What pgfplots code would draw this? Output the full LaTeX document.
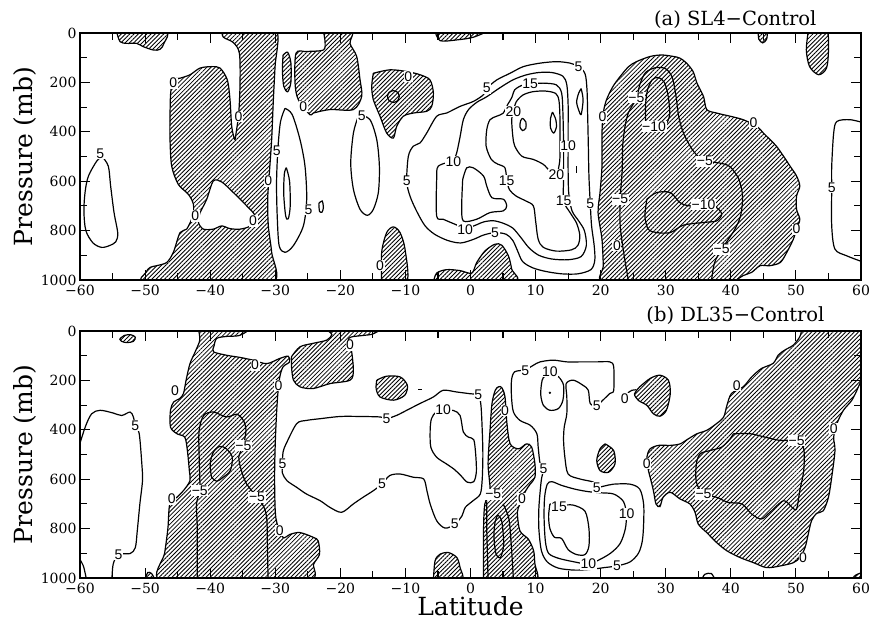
\documentclass[border=0pt]{standalone}
\usepackage{fontspec}
\setmainfont{DejaVu Serif}
\newfontfamily\labfam{Liberation Sans}
\usepackage{pgfplots}
\pgfplotsset{compat=1.18}
\usetikzlibrary{patterns.meta}

\newcommand\tickfont{\fontsize{14}{16}\selectfont}
\newcommand\axlabfont{\fontsize{25}{29}\selectfont}
\newcommand\titlefont{\fontsize{19.5}{23}\selectfont}
\newcommand\labfont{\labfam\fontsize{14}{16}\selectfont}

\tikzset{
  hatch/.style={draw=black, line width=1.2pt, smooth, tension=0.5,
    pattern={Lines[angle=45,distance=3pt,line width=0.85pt]}},
  cl/.style={black, line width=1.2pt, smooth, tension=0.5},
  hole/.style={draw=black, line width=1.2pt, smooth, tension=0.5, fill=white},
  lab/.style={fill=white, inner sep=0.6pt, font=\labfont},
}
% contour label: latitude, pressure, value
\newcommand{\lb}[3]{\node[lab] at (axis cs:#1,#2) {#3};}

\pgfplotsset{
  panel/.style={
    scale only axis, width=781pt, height=247pt,
    xmin=-60, xmax=60, ymin=0, ymax=1000, y dir=reverse,
    axis on top,
    axis line style={line width=1.8pt},
    tick style={black, line width=1.1pt},
    tick align=inside,
    major tick length=10pt, minor tick length=7pt,
    xtick={-60,-50,...,60}, minor xtick={-55,-45,...,55},
    xticklabels={−60,−50,−40,−30,−20,−10,0,10,20,30,40,50,60},
    ytick={0,200,...,1000}, minor ytick={100,300,...,900},
    yticklabels={0,200,400,600,800,1000},
    tick label style={font=\tickfont},
    xticklabel style={yshift=-2pt},
    ylabel={Pressure (mb)},
    ylabel style={at={(axis description cs:-0.0704,0.5)}, anchor=center, font=\axlabfont},
  }
}

\begin{document}
\begin{tikzpicture}
\useasboundingbox (-80pt,-342pt) rectangle (793pt,280pt);

% ---------------- (a) SL4 - Control ----------------
\begin{axis}[panel, at={(0pt,0pt)}, anchor=south west]
% negative (hatched) areas
\addplot[hatch] coordinates {(-54.4,-8)(-53.85,35)(-52.8,42)(-51.3,42)(-50.3,55)(-48.7,69)(-47.7,66)(-47.1,42)(-46.9,-8)(-54.4,-8)};
\addplot[hatch] coordinates {(-38.2,-8)(-37.97,17)(-36.43,39)(-35.51,82)(-35.41,203)(-35.61,324)(-36.02,405)(-36.23,431)(-36.69,378)(-36.95,270)(-37.36,190)(-38.48,142)(-39.76,136)(-41.56,142)(-43.09,169)(-44.63,183)(-45.66,190)(-46.07,243)(-46.17,337)(-46.17,431)(-45.91,539)(-44.89,613)(-43.35,653)(-42.58,693)(-42.68,741)(-43.61,794)(-44.63,808)(-45.66,888)(-46.68,929)(-48.22,942)(-49.24,949)(-49.86,969)(-50.16,1008)(-40,1008)(-30.29,1008)(-30.55,888)(-31.06,781)(-31.16,673)(-30.9,566)(-30.55,431)(-30.29,270)(-30.03,136)(-29.77,-8)(-34,-8)(-38.2,-8)};
\addplot[hole] coordinates {(-41.56,727)(-40.53,673)(-39.51,599)(-38.23,603)(-36.43,646)(-34.38,700)(-33.1,741)(-33.87,781)(-35.41,794)(-36.95,792)(-38.23,781)(-39.51,794)(-41.04,794)(-41.8,767)(-41.56,727)};
\addplot[hatch] coordinates {(-28.8,90)(-28.1,78)(-27.6,120)(-27.6,200)(-28.1,238)(-28.7,215)(-28.9,150)(-28.8,90)};
\addplot[hatch] coordinates {(-22.61,-8)(-18.26,-8)(-18.51,42)(-17.49,95)(-16.97,190)(-16.72,257)(-18.0,310)(-21.59,310)(-24.15,324)(-24.66,331)(-26.45,270)(-26.96,203)(-26.81,82)(-25.17,75)(-22.61,69)(-22.35,35)(-22.61,-8)};
\addplot[hatch] coordinates {(-14.93,163)(-12.36,149)(-9.8,156)(-7.75,169)(-6.22,190)(-5.7,243)(-5.96,297)(-6.73,317)(-8.78,324)(-10.32,337)(-11.34,378)(-11.85,425)(-12.88,405)(-13.9,337)(-14.93,270)(-15.18,216)(-14.93,163)};
\addplot[cl] coordinates {(-11.85,233)(-11.2,240)(-10.95,257)(-11.2,274)(-11.85,281)(-12.5,274)(-12.75,257)(-12.5,240)(-11.85,233)};
\addplot[hatch] coordinates {(-13.65,1008)(-13.65,888)(-12.88,808)(-11.85,785)(-10.83,808)(-10.06,875)(-9.8,1008)(-13.65,1008)};
\addplot[hatch] coordinates {(-5.45,-8)(-4.68,31)(-2.12,28)(0.44,17)(1.98,-8)(-5.45,-8)};
\addplot[hatch] coordinates {(-5.7,1008)(-5.2,972)(-3.66,958)(-1.6,962)(0.19,972)(0.96,929)(2.24,882)(3.77,855)(4.8,859)(5.82,902)(6.33,956)(6.59,1008)(-5.7,1008)};
\addplot[hatch] coordinates {(40.4,1008)(41.9,982)(43.2,969)(44.5,942)(46.0,942)(47.6,929)(48.6,888)(49.6,835)(50.1,794)(50.6,754)(50.1,714)(50.1,660)(50.6,620)(50.1,579)(49.1,539)(48.1,499)(47.0,458)(46.0,431)(45.0,405)(44.0,378)(41.9,351)(39.9,337)(37.8,324)(36.3,310)(35.8,257)(34.8,203)(34.2,156)(33.2,122)(32.2,102)(31.2,95)(29.4,89)(27.6,95)(25.5,116)(24.3,136)(23.0,176)(21.9,216)(20.9,270)(20.4,324)(20.2,405)(20.2,539)(19.9,646)(19.6,727)(20.2,835)(20.4,942)(20.4,1008)(30,1008)(40.4,1008)};
\addplot[hatch] coordinates {(51.9,-8)(51.6,69)(52.1,136)(53.5,169)(54.7,142)(55.0,69)(54.7,-8)(51.9,-8)};
\addplot[hatch] coordinates {(44.2,-8)(44.3,25)(44.9,40)(45.5,25)(45.5,-8)(44.2,-8)};
% positive contours
\addplot[cl] coordinates {(-56.6,500)(-55.65,539)(-55.29,620)(-54.77,727)(-54.2,810)(-54.5,845)(-55.4,860)(-56.67,868)(-58.0,850)(-59.1,800)(-59.4,720)(-59.2,640)(-58.7,579)(-57.44,519)(-56.6,500)};
\addplot[cl] coordinates {(-28.5,305)(-27.4,330)(-26.2,431)(-25.43,539)(-25.17,673)(-25.68,781)(-27.22,861)(-28.5,888)(-29.4,861)(-29.7,740)(-29.8,606)(-29.6,472)(-29.2,360)(-28.5,305)};
\addplot[cl] coordinates {(-28.3,545)(-27.8,600)(-27.7,700)(-28.0,752)(-28.4,740)(-28.7,650)(-28.6,570)(-28.3,545)};
\addplot[cl] coordinates {(-23.3,690)(-22.8,680)(-22.6,705)(-22.8,725)(-23.2,722)(-23.3,690)};
\addplot[cl] coordinates {(-16.97,331)(-15.44,351)(-14.41,431)(-14.0,539)(-14.16,646)(-14.93,714)(-15.85,738)(-16.97,714)(-17.99,633)(-18.4,526)(-17.99,405)(-17.23,337)(-16.97,331)};
% 5
\addplot[cl] coordinates {(2.49,223)(4.03,190)(6.08,163)(8.13,136)(10.69,122)(13.25,116)(15.3,122)(16.6,136)(17.6,165)(17.9,230)(18.0,330)(18.1,450)(18.2,580)(18.4,690)(18.6,780)(19.0,860)(19.1,920)(18.5,958)(16.5,975)(14,975)(11.5,965)(9.5,950)(8.0,925)(7.2,880)(6.5,840)(5.5,815)(3.77,808)(2.0,818)(0.5,835)(-1.5,850)(-3.5,840)(-5.5,815)(-7.0,780)(-8.3,720)(-9.3,660)(-9.8,600)(-9.55,499)(-8.78,458)(-7.75,445)(-6.73,405)(-5.19,337)(-3.66,324)(-1.6,297)(0.44,277)(1.98,250)(2.49,223)};
% 10
\addplot[cl] coordinates {(-2.63,519)(-4.94,539)(-5.2,593)(-5.2,741)(-4.2,754)(-2.4,774)(-0.83,790)(0.6,780)(2.0,765)(3.5,760)(5.0,770)(6.5,790)(7.8,830)(9,870)(10.5,900)(12.5,915)(15,918)(17,905)(17.8,860)(17.5,800)(16.6,760)(15.6,720)(15.1,650)(15.0,560)(15.0,458)(15.0,380)(15.0,290)(14.8,210)(14.2,175)(12.5,160)(10.5,160)(8.5,170)(6.5,190)(4.5,222)(2.5,258)(1.0,280)(-0.3,310)(-1.1,351)(-1.6,420)(-2.12,485)(-2.63,519)};
% 15
\addplot[cl] coordinates {(5.56,599)(5.3,546)(4.2,531)(3.2,512)(2.4,458)(2.5,391)(3.0,351)(4.0,337)(5.0,325)(5.7,290)(6.33,262)(6.8,230)(7.9,212)(9.15,206)(11.2,203)(13.2,210)(14.0,243)(14.2,324)(14.3,458)(14.3,593)(14.3,680)(15.3,727)(16.3,770)(16.8,820)(16.5,860)(15.5,878)(13.2,883)(11.2,868)(10.4,835)(10.0,760)(9.66,700)(8.5,680)(7.0,660)(6.0,635)(5.56,599)};
% 20
\addplot[cl] coordinates {(6.6,317)(6.33,351)(6.5,418)(6.8,458)(7.9,499)(9.66,512)(11.2,532)(12.2,559)(13.2,573)(13.7,520)(13.75,450)(13.75,350)(13.6,275)(13.1,245)(11.5,235)(9.5,238)(8.0,252)(7.0,280)(6.6,317)};
\addplot[cl] coordinates {(-1.2,593)(-0.58,546)(0.44,546)(2.0,579)(2.5,620)(3.3,667)(5.05,673)(5.56,700)(5.05,720)(3.0,727)(0.95,754)(-1.1,761)(-1.35,700)(-1.2,593)};
\addplot[cl] coordinates {(8.0,345)(8.5,360)(8.5,385)(8.0,395)(7.6,380)(7.7,355)(8.0,345)};
\addplot[cl] coordinates {(12.6,320)(13.1,350)(13.2,380)(12.8,405)(12.3,385)(12.3,345)(12.6,320)};
\addplot[cl] coordinates {(17.0,225)(17.3,270)(17.0,330)(16.6,310)(16.3,280)(16.6,245)(17.0,225)};
\addplot[cl] coordinates {(16.3,540)(16.3,566)};
\addplot[cl] coordinates {(60.5,364)(58.3,351)(56.3,358)(55.8,405)(55.5,539)(55.5,626)(55.5,781)(56.0,875)(57.8,902)(60.5,929)};
% negative contours
\addplot[cl] coordinates {(24.3,1008)(23.6,900)(23.0,780)(23.0,673)(23.3,560)(23.4,450)(23.8,370)(24.3,320)(25.2,280)(25.6,263)(26.0,210)(26.9,160)(28.5,140)(30.0,145)(31.0,180)(31.6,260)(32.0,340)(32.8,410)(34.3,480)(36.0,519)(38.0,525)(39.8,540)(41.2,590)(41.8,660)(41.5,740)(40.5,800)(38.6,875)(37.5,930)(37.0,1008)};
\addplot[cl] coordinates {(26.9,350)(26.9,290)(27.2,230)(27.9,190)(28.8,180)(29.8,200)(30.4,260)(30.6,330)(30.0,370)(28.8,380)(27.5,378)(27.0,368)(26.9,350)};
\addplot[cl] coordinates {(27.1,673)(28.6,646)(30.7,646)(32.2,687)(33.7,700)(35.8,694)(37.8,707)(38.6,734)(37.8,761)(35.8,767)(32.7,778)(30.7,808)(28.6,808)(27.3,794)(26.8,741)(27.1,673)};
% labels
\lb{-45.66}{203}{0}\lb{-35.66}{337}{0}\lb{-42.3}{741}{0}\lb{-33.4}{761}{0}
\lb{-31.06}{599}{0}\lb{-25.68}{297}{0}\lb{-9.55}{176}{0}\lb{-13.9}{942}{0}
\lb{20.3}{340}{0}\lb{43.5}{364}{0}\lb{50.1}{794}{0}\lb{22.5}{861}{0}
\lb{-29.77}{478}{5}\lb{-56.9}{488}{5}\lb{-24.9}{714}{5}\lb{-16.7}{337}{5}
\lb{-9.8}{600}{5}\lb{2.49}{223}{5}\lb{16.6}{136}{5}\lb{18.4}{690}{5}
\lb{3.77}{808}{5}\lb{55.5}{626}{5}
\lb{-2.63}{519}{10}\lb{-0.83}{795}{10}\lb{15.0}{458}{10}
\lb{9.15}{206}{15}\lb{5.56}{599}{15}\lb{14.3}{680}{15}
\lb{6.6}{317}{20}\lb{13.2}{573}{20}
\lb{25.5}{263}{−5}\lb{23.0}{673}{−5}\lb{36.0}{519}{−5}\lb{38.6}{875}{−5}
\lb{28.2}{380}{−10}\lb{35.8}{694}{−10}
\end{axis}

% ---------------- (b) DL35 - Control ----------------
\begin{axis}[panel, at={(0pt,-298pt)}, anchor=south west,
  xlabel={Latitude},
  xlabel style={at={(axis description cs:0.5,-0.113)}, anchor=center, font=\axlabfont}]
\addplot[hatch] coordinates {(-53.9,32)(-53.2,18)(-52.2,15)(-51.5,25)(-51.8,42)(-52.8,47)(-53.6,42)(-53.9,32)};
\addplot[hatch] coordinates {(-41.8,-8)(-34.5,-8)(-35.5,18)(-37.5,22)(-39.0,30)(-39.4,60)(-39.5,84)(-37.5,98)(-35.4,107)(-33.4,118)(-31.3,132)(-29.3,111)(-28.0,102)(-27.8,125)(-28.8,145)(-29.3,186)(-29.6,253)(-29.8,335)(-30.0,457)(-30.1,592)(-30.0,728)(-29.7,782)(-28.8,836)(-27.7,823)(-26.2,816)(-24.1,836)(-23.4,850)(-23.2,904)(-24.1,944)(-24.7,1008)(-36,1008)(-47.7,1008)(-47.0,900)(-46.5,800)(-46.2,700)(-45.1,673)(-44.1,646)(-43.1,606)(-43.2,565)(-43.5,484)(-43.9,430)(-45.1,416)(-46.1,389)(-46.1,321)(-45.6,287)(-44.7,274)(-44.1,253)(-43.7,199)(-43.1,132)(-42.3,84)(-41.6,37)(-41.8,-8)};
\addplot[hatch] coordinates {(-27.5,104)(-26.2,64)(-24.2,50)(-22.1,37)(-21.3,15)(-21.5,-8)(-14.4,-8)(-15.0,12)(-16.5,18)(-18.3,24)(-18.8,37)(-18.3,77)(-18.0,159)(-18.5,199)(-21.6,213)(-24.2,233)(-26.2,226)(-27.2,199)(-27.5,145)(-27.5,104)};
\addplot[hatch] coordinates {(-50.0,1008)(-49.6,978)(-49.0,982)(-48.6,1008)(-50.0,1008)};
\addplot[hatch] coordinates {(-14.4,199)(-12.9,183)(-10.8,186)(-9.7,220)(-10.1,260)(-11.8,280)(-13.9,267)(-14.5,233)(-14.4,199)};
\addplot[hatch] coordinates {(-5.7,1008)(-5.45,931)(-4.7,904)(-3.4,897)(-2.1,917)(-1.6,958)(-1.35,1008)(-5.7,1008)};
\addplot[hatch] coordinates {(2.0,1008)(2.0,809)(2.2,701)(3.0,646)(2.7,538)(3.0,402)(3.3,294)(3.8,240)(4.3,226)(4.8,229)(5.3,267)(5.6,375)(6.1,457)(7.4,477)(8.6,457)(9.4,470)(9.9,538)(9.9,592)(9.2,619)(8.5,646)(7.6,701)(7.2,734)(7.6,809)(8.9,843)(9.7,890)(9.9,944)(10.2,1008)(6,1008)(2.0,1008)};
\addplot[hatch] coordinates {(20.7,457)(22.0,484)(22.2,538)(21.2,572)(19.9,565)(19.4,524)(19.9,477)(20.7,457)};
\addplot[hatch] coordinates {(26.0,226)(27.6,192)(29.1,179)(30.4,199)(30.7,253)(30.1,321)(29.1,345)(28.1,335)(27.1,301)(25.8,281)(25.2,255)(26.0,226)};
\addplot[hatch] coordinates {(50.9,-8)(50.6,23)(49.6,57)(48.3,77)(47.3,97)(46.5,131)(44.7,152)(43.2,186)(41.9,226)(40.1,253)(39.4,301)(38.9,348)(37.8,375)(36.3,402)(34.8,416)(33.5,436)(32.2,457)(30.7,463)(28.9,463)(27.6,477)(27.1,511)(27.3,560)(27.6,592)(28.1,646)(28.5,700)(29.1,711)(29.6,673)(30.7,653)(32.2,680)(33.7,700)(34.5,734)(35.0,782)(36.3,816)(37.8,856)(39.4,890)(41.4,917)(43.5,938)(45.5,958)(47.6,951)(49.6,938)(50.6,917)(51.4,877)(51.9,822)(52.4,768)(53.2,738)(54.2,728)(55.0,673)(55.5,592)(56.0,484)(55.8,430)(56.3,375)(57.3,321)(58.6,280)(59.6,226)(60.5,159)(60.5,-8)(55,-8)(50.9,-8)};
\addplot[hatch] coordinates {(58.5,1008)(59.2,988)(60.5,978)(60.5,1008)(58.5,1008)};
% contours
\addplot[cl] coordinates {(-60.5,497)(-59.2,389)(-58.2,335)(-56.9,321)(-54.9,332)(-53.6,342)(-52.3,328)(-51.8,348)(-51.5,382)(-50.9,416)(-50.5,538)(-50.4,606)(-50.8,700)(-51.2,809)(-51.5,877)(-52.3,901)(-54.1,904)(-54.9,944)(-55.1,1008)};
\addplot[cl] coordinates {(-60.5,905)(-59.5,950)(-59.0,1008)};
\addplot[cl] coordinates {(-42.0,1008)(-42.0,900)(-42.0,780)(-42.1,700)(-41.6,646)(-41.6,592)(-41.7,500)(-41.7,403)(-41.0,342)(-39.5,328)(-37.5,348)(-35.9,337)(-34.9,362)(-34.5,402)(-34.9,463)(-35.6,510)(-35.2,565)(-34.4,619)(-32.8,673)(-31.8,710)(-31.3,760)(-31.2,877)(-31.1,1008)};
\addplot[cl] coordinates {(-39.8,592)(-40.0,538)(-39.5,490)(-38.5,467)(-37.5,477)(-36.6,511)(-36.9,565)(-38.0,592)(-39.0,608)(-39.8,592)};
\addplot[cl] coordinates {(-28.9,538)(-28.8,490)(-28.3,455)(-26.7,375)(-25.2,362)(-23.1,355)(-20.0,346)(-17.0,346)(-13.9,348)(-12.9,355)(-11.3,341)(-9.8,321)(-7.8,294)(-5.7,267)(-4.2,240)(-2.1,247)(-0.07,254)(1.2,260)(1.6,300)(1.8,400)(1.9,500)(1.8,600)(1.5,660)(0.4,687)(-0.8,714)(-1.3,748)(-2.4,782)(-3.9,798)(-5.2,768)(-6.2,700)(-6.7,646)(-7.2,599)(-8.8,592)(-10.8,579)(-12.4,585)(-13.6,619)(-14.9,646)(-16.5,673)(-18.0,700)(-19.8,734)(-21.6,714)(-23.1,687)(-25.2,660)(-26.7,633)(-28.2,606)(-28.9,575)(-28.9,538)};
\addplot[cl] coordinates {(-4.2,320)(-2.6,322)(-1.6,342)(-1.1,409)(-0.3,430)(0.5,440)(0.8,500)(0.9,570)(0.5,610)(-0.5,612)(-1.5,585)(-2.5,560)(-3.7,538)(-5.2,511)(-6.1,470)(-6.2,402)(-6.0,355)(-5.3,328)(-4.2,320)};
\addplot[cl] coordinates {(-8.0,236)(-7.5,236)};
\addplot[cl] coordinates {(2.5,690)(2.5,800)(2.6,900)(2.7,1008)};
\addplot[cl] coordinates {(5.0,700)(5.9,760)(6.3,880)(6.6,1008)};
\addplot[cl] coordinates {(4.2,745)(4.8,770)(5.1,863)(4.6,917)(3.9,900)(3.6,830)(3.8,770)(4.2,745)};
\addplot[cl] coordinates {(8.4,159)(9.7,138)(10.7,125)(12.7,118)(14.8,125)(16.8,125)(19.4,125)(21.4,125)(22.0,145)(22.0,240)(21.4,253)(19.4,301)(18.4,294)(18.1,240)(17.3,220)(15.8,199)(14.7,213)(14.8,267)(14.8,335)(14.4,389)(14.3,443)(14.5,511)(15.0,579)(16.8,599)(18.9,612)(19.4,633)(20.5,628)(22.0,620)(24.5,620)(26.0,640)(26.6,700)(26.6,780)(26.4,850)(25.8,900)(24.5,935)(22.5,951)(20.5,958)(18.5,965)(16,968)(13.5,960)(11.8,935)(10.9,890)(10.5,800)(10.5,720)(10.7,650)(10.9,600)(11.2,558)(10.7,538)(10.4,470)(10.2,416)(9.2,382)(7.6,362)(6.6,328)(6.3,267)(6.3,199)(6.8,165)(8.4,159)};
\addplot[cl] coordinates {(12.2,175)(13.5,185)(14.3,220)(14.2,280)(13.5,314)(12.2,321)(11.2,301)(10.8,260)(10.9,215)(11.2,188)(12.2,175)};
\addplot[only marks, mark=*, mark size=0.9pt, black] coordinates {(12.2,250)};
\addplot[cl] coordinates {(24.0,741)(23.8,800)(23.0,860)(21.5,900)(19.5,930)(18.1,944)(16,935)(13.5,920)(12,900)(11.5,850)(11.3,750)(11.4,670)(11.8,620)(12.5,610)(14,625)(16,640)(18,650)(20,655)(22,660)(23.5,690)(24.0,741)};
\addplot[cl] coordinates {(12.2,700)(14.0,705)(15.8,705)(17.6,730)(18.2,800)(18.2,870)(17.6,905)(16.3,905)(15.0,885)(14.0,840)(12.9,835)(12.2,800)(12.0,750)(12.2,700)};
\addplot[cl] coordinates {(24.2,250)(24.8,240)(25.5,238)};
\addplot[cl] coordinates {(40.4,416)(43.0,416)(45.3,430)(47.6,443)(50.1,443)(51.2,477)(51.2,565)(50.6,646)(50.1,721)(49.4,714)(48.1,687)(46.0,734)(44.7,761)(43.2,741)(41.7,700)(39.6,694)(37.8,673)(35.8,660)(34.7,612)(34.7,538)(35.3,497)(36.8,484)(38.6,470)(39.9,436)(40.4,416)};
\addplot[cl] coordinates {(35.5,1008)(36.0,985)(37.0,982)(37.6,1008)};
% labels
\lb{-45.4}{240}{0}\lb{-33.1}{138}{0}\lb{-29.5}{220}{0}\lb{-29.3}{809}{0}
\lb{-45.9}{680}{0}\lb{-18.5}{57}{0}\lb{5.3}{321}{0}\lb{7.9}{680}{0}
\lb{23.7}{274}{0}\lb{40.9}{220}{0}\lb{27.1}{538}{0}\lb{55.8}{396}{0}\lb{51.1}{917}{0}
\lb{-51.5}{382}{5}\lb{-54.1}{904}{5}\lb{-28.9}{538}{5}\lb{-12.9}{355}{5}
\lb{1.2}{260}{5}\lb{-13.6}{619}{5}\lb{-2.4}{782}{5}\lb{8.4}{159}{5}
\lb{19.4}{301}{5}\lb{11.2}{558}{5}\lb{19.4}{633}{5}\lb{22.5}{951}{5}
\lb{-4.2}{320}{10}\lb{12.2}{165}{10}\lb{24.0}{741}{10}\lb{18.1}{944}{10}
\lb{13.6}{712}{15}
\lb{-41.6}{646}{−5}\lb{-34.9}{463}{−5}\lb{-32.8}{673}{−5}\lb{3.5}{660}{−5}
\lb{50.1}{443}{−5}\lb{35.8}{660}{−5}
\end{axis}

\node[anchor=east, font=\titlefont] at (740pt,260pt) {(a) SL4−Control};
\node[anchor=east, font=\titlefont] at (748pt,-36pt) {(b) DL35−Control};
\end{tikzpicture}
\end{document}
